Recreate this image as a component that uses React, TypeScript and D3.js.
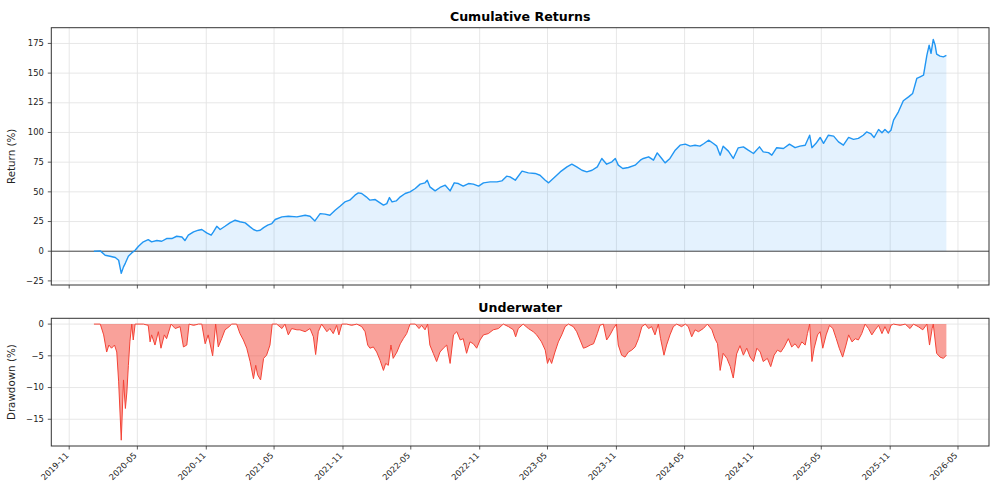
import React from "react";
import * as d3 from "d3";

const returnDates = [
  "2020-01-06","2020-01-23","2020-02-05","2020-02-18","2020-03-03","2020-03-12","2020-03-19","2020-03-25","2020-03-30","2020-04-07",
  "2020-04-16","2020-04-25","2020-05-04","2020-05-17","2020-05-30","2020-06-08","2020-06-22","2020-07-05","2020-07-18","2020-08-01",
  "2020-08-14","2020-08-28","2020-09-05","2020-09-14","2020-09-28","2020-10-11","2020-10-20","2020-11-02","2020-11-14","2020-11-20",
  "2020-11-29","2020-12-08","2020-12-21","2021-01-03","2021-01-17","2021-01-30","2021-02-13","2021-02-26","2021-03-07","2021-03-16",
  "2021-03-25","2021-04-03","2021-04-14","2021-04-25","2021-05-04","2021-05-22","2021-06-08","2021-07-01","2021-07-23","2021-08-05",
  "2021-08-18","2021-09-01","2021-09-14","2021-09-27","2021-10-11","2021-10-24","2021-11-06","2021-11-19","2021-12-03","2021-12-12",
  "2021-12-21","2022-01-02","2022-01-12","2022-01-26","2022-02-08","2022-02-17","2022-02-26","2022-03-05","2022-03-12","2022-03-23",
  "2022-04-03","2022-04-16","2022-04-29","2022-05-13","2022-05-26","2022-06-08","2022-06-14","2022-06-21","2022-07-05","2022-07-18",
  "2022-08-01","2022-08-14","2022-08-25","2022-09-05","2022-09-18","2022-10-02","2022-10-15","2022-10-29","2022-11-11","2022-11-29",
  "2022-12-17","2022-12-30","2023-01-12","2023-01-21","2023-02-04","2023-02-22","2023-03-11","2023-03-29","2023-04-11","2023-04-25",
  "2023-05-04","2023-05-17","2023-06-04","2023-06-22","2023-07-05","2023-07-18","2023-08-01","2023-08-14","2023-08-28","2023-09-11",
  "2023-09-23","2023-10-06","2023-10-20","2023-10-29","2023-11-06","2023-11-18","2023-12-03","2023-12-21","2024-01-04","2024-01-12",
  "2024-01-26","2024-02-08","2024-02-18","2024-03-01","2024-03-10","2024-03-23","2024-04-06","2024-04-19","2024-05-03","2024-05-16",
  "2024-05-29","2024-06-11","2024-06-22","2024-07-04","2024-07-17","2024-07-26","2024-08-04","2024-08-12","2024-08-26","2024-09-08",
  "2024-09-21","2024-10-05","2024-10-18","2024-11-01","2024-11-17","2024-11-27","2024-12-11","2024-12-20","2025-01-02","2025-01-20",
  "2025-02-05","2025-02-20","2025-03-05","2025-03-19","2025-03-31","2025-04-06","2025-04-17","2025-04-28","2025-05-07","2025-05-20",
  "2025-06-03","2025-06-16","2025-06-29","2025-07-13","2025-07-26","2025-08-08","2025-08-21","2025-08-30","2025-09-10","2025-09-19",
  "2025-10-01","2025-10-10","2025-10-18","2025-10-27","2025-11-03","2025-11-10","2025-11-23","2025-12-06","2025-12-20","2025-12-31",
  "2026-01-11","2026-01-20","2026-01-29","2026-02-07","2026-02-13","2026-02-18","2026-02-24","2026-03-01","2026-03-05","2026-03-14",
  "2026-03-23","2026-03-31"
];
const returnValues = [
  0, 0.3, -3.4, -4.2, -5.3, -7.6, -18.6, -13.2, -10, -4.2,
  -1.4, 0.8, 4.2, 7.9, 9.8, 7.9, 9, 8.4, 10.7, 10.7,
  12.6, 12, 9, 13.5, 16.3, 17.7, 18.3, 15.4, 13.5, 16.3,
  21, 18.3, 21, 23.9, 26.1, 24.8, 23.9, 20.5, 18.3, 17.1,
  17.7, 19.9, 21.9, 23.3, 26.7, 28.9, 29.5, 28.9, 30.3, 29.5,
  25.5, 31.7, 31.2, 30.3, 34.5, 37.9, 41.5, 43, 47.2, 49.1,
  48.6, 45.8, 43, 43.5, 40.7, 38.8, 40.1, 45.2, 41.5, 42.4,
  45.8, 48.6, 50, 52.8, 56.5, 57.6, 59.8, 54.2, 50.8, 53.7,
  55.6, 50.8, 57.6, 57, 54.8, 57, 56.5, 54.8, 57.6, 58.4,
  58.4, 59.2, 63.2, 62.6, 59.8, 67.4, 66, 65.5, 64, 59.8,
  57.6, 61.4, 66.8, 71, 73.3, 71, 68.2, 66.8, 68.2, 71,
  78.1, 73.3, 75.3, 78.1, 72.5, 69.7, 70.5, 72.5, 76.7, 78.1,
  79.5, 76.7, 82.8, 78.1, 74.4, 78.1, 85.1, 89.3, 90.2, 88.5,
  89.3, 88.5, 90.7, 93.5, 90.7, 88.5, 80.9, 88.5, 84.3, 78.1,
  87, 87.9, 85.1, 82.3, 87.9, 83.7, 83, 80.9, 87.2, 86.5,
  90.2, 87.2, 88.5, 89.3, 97.7, 87.2, 90.9, 95.8, 90.9, 97.7,
  96.9, 92.1, 89.3, 95.8, 94.2, 95, 97.7, 100.5, 99.1, 95.8,
  102.5, 99.7, 102.5, 99.7, 101.9, 110.4, 117.4, 126.7, 130, 132.9,
  145.5, 146.9, 148.3, 165.2, 173.6, 166.6, 178.4, 173.6, 166, 164.3,
  163.7, 164.9
];

const drawdownDates = [
  "2020-01-06","2020-01-23","2020-02-01","2020-02-09","2020-02-15","2020-02-22","2020-03-01","2020-03-07","2020-03-12","2020-03-19",
  "2020-03-25","2020-03-30","2020-04-03","2020-04-07","2020-04-11","2020-04-16","2020-04-20","2020-04-25","2020-05-17","2020-05-30",
  "2020-06-04","2020-06-08","2020-06-17","2020-06-26","2020-07-03","2020-07-12","2020-07-18","2020-07-30","2020-08-10","2020-08-23",
  "2020-09-01","2020-09-10","2020-09-16","2020-09-28","2020-10-11","2020-10-20","2020-10-29","2020-11-06","2020-11-18","2020-11-26",
  "2020-12-03","2020-12-12","2020-12-21","2021-01-01","2021-01-08","2021-01-21","2021-01-30","2021-02-08","2021-02-17","2021-02-26",
  "2021-03-07","2021-03-13","2021-03-18","2021-03-26","2021-04-03","2021-04-11","2021-04-20","2021-04-26","2021-05-08","2021-05-22",
  "2021-05-30","2021-06-08","2021-06-17","2021-07-01","2021-07-09","2021-07-23","2021-08-05","2021-08-14","2021-08-20","2021-08-27",
  "2021-09-05","2021-09-19","2021-09-27","2021-10-06","2021-10-15","2021-10-21","2021-10-29","2021-11-11","2021-11-24","2021-12-08",
  "2021-12-21","2021-12-30","2022-01-06","2022-01-12","2022-01-21","2022-01-30","2022-02-08","2022-02-17","2022-02-23","2022-03-02",
  "2022-03-09","2022-03-15","2022-03-25","2022-04-03","2022-04-11","2022-04-20","2022-04-29","2022-05-13","2022-05-23","2022-05-30",
  "2022-06-08","2022-06-15","2022-06-21","2022-06-30","2022-07-09","2022-07-18","2022-07-27","2022-08-05","2022-08-14","2022-08-23",
  "2022-09-01","2022-09-10","2022-09-18","2022-09-27","2022-10-06","2022-10-15","2022-10-24","2022-11-02","2022-11-11","2022-11-24",
  "2022-12-07","2022-12-21","2023-01-03","2023-01-17","2023-01-30","2023-02-05","2023-02-12","2023-02-25","2023-03-11","2023-03-24",
  "2023-04-02","2023-04-15","2023-04-25","2023-05-01","2023-05-06","2023-05-12","2023-05-21","2023-05-30","2023-06-08","2023-06-17",
  "2023-06-26","2023-07-09","2023-07-18","2023-07-27","2023-08-05","2023-08-14","2023-08-23","2023-09-01","2023-09-11","2023-09-18",
  "2023-09-27","2023-10-06","2023-10-15","2023-10-24","2023-11-01","2023-11-06","2023-11-15","2023-11-24","2023-12-03","2023-12-12",
  "2023-12-21","2023-12-30","2024-01-08","2024-01-17","2024-01-26","2024-02-03","2024-02-12","2024-02-21","2024-02-27","2024-03-07",
  "2024-03-14","2024-03-23","2024-04-01","2024-04-10","2024-04-23","2024-05-03","2024-05-11","2024-05-20","2024-05-29","2024-06-07",
  "2024-06-20","2024-07-01","2024-07-13","2024-07-21","2024-07-28","2024-08-04","2024-08-12","2024-08-22","2024-08-31","2024-09-08",
  "2024-09-17","2024-09-26","2024-10-05","2024-10-14","2024-10-23","2024-11-01","2024-11-10","2024-11-19","2024-11-27","2024-12-08",
  "2024-12-17","2024-12-26","2025-01-04","2025-01-13","2025-01-22","2025-02-02","2025-02-11","2025-02-20","2025-03-01","2025-03-10",
  "2025-03-19","2025-03-25","2025-03-31","2025-04-06","2025-04-12","2025-04-21","2025-04-28","2025-05-05","2025-05-14","2025-05-23",
  "2025-06-01","2025-06-10","2025-06-18","2025-06-27","2025-07-06","2025-07-13","2025-07-22","2025-07-31","2025-08-08","2025-08-17",
  "2025-08-26","2025-09-04","2025-09-13","2025-09-22","2025-10-01","2025-10-10","2025-10-18","2025-10-27","2025-11-03","2025-11-10",
  "2025-11-28","2025-12-11","2025-12-24","2026-01-02","2026-01-15","2026-01-27","2026-02-07","2026-02-14","2026-02-21","2026-02-24",
  "2026-03-05","2026-03-14","2026-03-23","2026-03-31"
];
const drawdownValues = [
  0, 0, -1.7, -4.4, -3.3, -3.8, -3.3, -4.4, -9.1, -18.3,
  -8.8, -13.3, -10.7, -6.5, -2.8, 0, -2.5, 0, 0, -0.2,
  -2.8, -1.7, -3.3, -1.2, -3.8, -1.7, -2.3, 0, -0.7, -0.4,
  -3.6, -3.3, 0, -0.2, 0, 0, -3.1, -1.7, -5.0, 0,
  -3.6, -2.3, -0.9, -0.4, 0, 0, -1.5, -2.5, -3.8, -5.9,
  -8.6, -6.5, -8.0, -8.8, -5.4, -4.9, -3.3, 0, 0, -0.7,
  0, -1.7, -0.7, -0.9, -0.9, -1.2, -0.7, -2.0, -4.8, -1.2,
  0, -1.2, -0.7, -1.5, -0.2, -1.7, 0, 0, -0.2, 0,
  -0.4, -1.2, -3.3, -3.8, -3.6, -4.4, -5.7, -7.3, -6.2, -6.5,
  -3.3, -5.4, -4.4, -3.1, -2.3, -1.5, 0, 0, -0.7, -0.2,
  -0.9, 0, -3.3, -4.6, -5.9, -4.4, -3.8, -3.3, -6.2, -1.7,
  -1.2, -2.5, -2.3, -4.6, -2.8, -3.1, -3.8, -2.5, -1.7, -1.5,
  -0.9, -0.7, 0, -0.4, -0.9, -2.0, -0.7, 0, -0.7, -1.2,
  -1.7, -2.8, -4.1, -6.2, -5.4, -6.2, -4.4, -2.8, -1.7, -0.4,
  0, -0.4, -1.2, -2.5, -3.8, -3.6, -3.3, -3.1, -1.5, -0.2,
  0, -2.5, -1.7, -0.7, 0, -3.3, -4.9, -5.2, -4.4, -4.1,
  -3.6, -2.3, -0.4, 0, -0.7, -0.4, -1.7, 0, -2.3, -4.9,
  -3.3, -1.7, -0.4, 0, -0.4, 0, -0.4, -2.0, -0.9, -1.2,
  -0.7, 0, -0.9, -2.3, -3.1, -7.3, -4.6, -5.4, -6.7, -8.5,
  -4.7, -3.4, -4.9, -3.8, -5.2, -5.9, -3.8, -4.4, -5.9, -5.4,
  -6.7, -4.9, -4.1, -4.4, -3.6, -2.3, -3.6, -3.1, -3.8, -2.8,
  -3.3, -1.5, 0, -5.9, -3.8, -1.7, -1.2, -3.8, -1.7, -0.2,
  -0.7, -2.3, -3.8, -5.2, -3.3, -1.7, -2.8, -2.3, -2.5, -1.5,
  0, -0.7, -1.7, -0.9, -0.2, -1.5, -0.4, -1.5, -0.2, 0,
  -0.2, 0, -0.7, 0, -0.4, -0.9, 0, -3.3, -0.7, 0,
  -4.6, -5.2, -5.4, -4.9
];

const xTickLabels = ["2019-11","2020-05","2020-11","2021-05","2021-11","2022-05","2022-11","2023-05","2023-11","2024-05","2024-11","2025-05","2025-11","2026-05"];
const returnTicks = [-25, 0, 25, 50, 75, 100, 125, 150, 175];
const drawdownTicks = [-15, -10, -5, 0];

const W = 997, H = 499;
const LEFT = 51.3, RIGHT = 989;
const TOP1 = 27.7, BOT1 = 285;
const TOP2 = 318.3, BOT2 = 446;
const FONT = "DejaVu Sans, sans-serif";
const BLUE = "#2196F3";
const RED = "#F44336";
const GRID = "#e4e4e4";
const SPINE = "#333";

const parse = d3.utcParse("%Y-%m-%d");
const parseM = d3.utcParse("%Y-%m");

function pad(ext: [number, number]): [number, number] {
  const r = ext[1] - ext[0];
  return [ext[0] - r * 0.05, ext[1] + r * 0.05];
}

const fmt = (v: number) => (v < 0 ? "\u2212" + Math.abs(v) : String(v));

function zip(dates: string[], values: number[]) {
  const n = Math.min(dates.length, values.length);
  const out: { t: Date; v: number }[] = [];
  for (let i = 0; i < n; i++) out.push({ t: parse(dates[i]) as Date, v: values[i] });
  return out;
}

export default function App() {
  const rData = zip(returnDates, returnValues);
  const dData = zip(drawdownDates, drawdownValues);
  const allT = rData.map((d) => +d.t);
  const tExt = pad([d3.min(allT) as number, d3.max(allT) as number]);
  const x = d3.scaleUtc().domain([new Date(tExt[0]), new Date(tExt[1])]).range([LEFT, RIGHT]);
  const y1 = d3.scaleLinear().domain(pad(d3.extent(rData, (d) => d.v) as [number, number])).range([BOT1, TOP1]);
  const y2 = d3.scaleLinear().domain(pad(d3.extent(dData, (d) => d.v) as [number, number])).range([BOT2, TOP2]);

  const line1 = d3.line<any>().x((d) => x(d.t)).y((d) => y1(d.v));
  const area1 = d3.area<any>().x((d) => x(d.t)).y0(y1(0)).y1((d) => y1(d.v));
  const line2 = d3.line<any>().x((d) => x(d.t)).y((d) => y2(d.v));
  const area2 = d3.area<any>().x((d) => x(d.t)).y0(y2(0)).y1((d) => y2(d.v));

  const xt = xTickLabels.map((s) => ({ s, t: parseM(s) as Date }));

  const grid = (top: number, bot: number, y: any, ticks: number[]) => (
    <g>
      {xt.map((d) => (
        <line key={"gx" + d.s} x1={x(d.t)} x2={x(d.t)} y1={top} y2={bot} stroke={GRID} strokeWidth={0.9} />
      ))}
      {ticks.map((v) => (
        <line key={"gy" + v} x1={LEFT} x2={RIGHT} y1={y(v)} y2={y(v)} stroke={GRID} strokeWidth={0.9} />
      ))}
    </g>
  );

  const frame = (top: number, bot: number, y: any, ticks: number[], showX: boolean) => (
    <g>
      <rect x={LEFT} y={top} width={RIGHT - LEFT} height={bot - top} fill="none" stroke={SPINE} strokeWidth={1} />
      {ticks.map((v) => (
        <g key={"ty" + v}>
          <line x1={LEFT - 3.5} x2={LEFT} y1={y(v)} y2={y(v)} stroke={SPINE} strokeWidth={0.8} />
          <text x={LEFT - 7.5} y={y(v)} dy="0.32em" textAnchor="end" fontSize={8.4} fontFamily={FONT} fill="#222">
            {fmt(v)}
          </text>
        </g>
      ))}
      {xt.map((d) => (
        <g key={"tx" + d.s}>
          <line x1={x(d.t)} x2={x(d.t)} y1={bot} y2={bot + 3.5} stroke={SPINE} strokeWidth={0.8} />
          {showX && (
            <text
              transform={`translate(${x(d.t)},${bot + 10}) rotate(-45)`}
              textAnchor="end"
              fontSize={8.4}
              fontFamily={FONT}
              fill="#222"
            >
              {d.s}
            </text>
          )}
        </g>
      ))}
    </g>
  );

  return (
    <svg width={W} height={H} style={{ position: "absolute", left: 0, top: 0, display: "block", background: "#fff" }}>
      <rect width={W} height={H} fill="#fff" />
      {grid(TOP1, BOT1, y1, returnTicks)}
      <path d={area1(rData) as string} fill={BLUE} fillOpacity={0.12} />
      <line x1={LEFT} x2={RIGHT} y1={y1(0)} y2={y1(0)} stroke="#222" strokeWidth={0.8} />
      <path d={line1(rData) as string} fill="none" stroke={BLUE} strokeWidth={1.4} strokeLinejoin="round" />
      {frame(TOP1, BOT1, y1, returnTicks, false)}
      <text x={(LEFT + RIGHT) / 2} y={20.5} textAnchor="middle" fontSize={12.6} fontWeight="bold" fontFamily={FONT} fill="#000">
        Cumulative Returns
      </text>
      <text transform={`translate(14.5,${(TOP1 + BOT1) / 2}) rotate(-90)`} textAnchor="middle" fontSize={10.3} fontFamily={FONT} fill="#222">
        Return (%)
      </text>

      {grid(TOP2, BOT2, y2, drawdownTicks)}
      <path d={area2(dData) as string} fill={RED} fillOpacity={0.5} />
      <path d={line2(dData) as string} fill="none" stroke={RED} strokeWidth={1} strokeLinejoin="round" />
      {frame(TOP2, BOT2, y2, drawdownTicks, true)}
      <text x={(LEFT + RIGHT) / 2} y={311.5} textAnchor="middle" fontSize={12.6} fontWeight="bold" fontFamily={FONT} fill="#000">
        Underwater
      </text>
      <text transform={`translate(15,${(TOP2 + BOT2) / 2}) rotate(-90)`} textAnchor="middle" fontSize={10.3} fontFamily={FONT} fill="#222">
        Drawdown (%)
      </text>
    </svg>
  );
}
